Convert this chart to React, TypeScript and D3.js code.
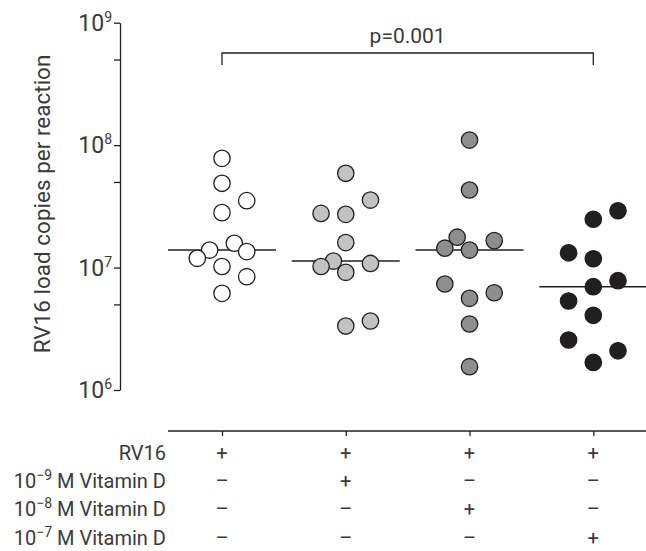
import React, { useEffect, useRef } from 'react';
import * as d3 from 'd3';

// groups (one per column of the table below the axis)
const groups = ['RV16', 'RV16 + 1e-9 M VitD', 'RV16 + 1e-8 M VitD', 'RV16 + 1e-7 M VitD'];

// RV16 load, copies per reaction
const rv16Only = [7.8e7, 4.88e7, 3.52e7, 2.81e7, 1.58e7, 1.39e7, 1.35e7, 1.19e7, 1.02e7, 8.42e6, 6.16e6];
const vitD9 = [5.89e7, 3.56e7, 2.77e7, 2.72e7, 1.6e7, 1.13e7, 1.02e7, 1.08e7, 9.15e6, 3.33e6, 3.66e6];
const vitD8 = [1.1e8, 4.3e7, 1.77e7, 1.66e7, 1.44e7, 1.39e7, 7.34e6, 6.23e6, 5.61e6, 3.46e6, 1.55e6];
const vitD7 = [2.91e7, 2.48e7, 1.32e7, 1.18e7, 7.81e6, 6.98e6, 5.33e6, 4.07e6, 2.56e6, 2.09e6, 1.68e6];

// scatter column of each point (-2 .. 2), same order as the values
const rv16OnlySlots = [0, 0, 2, 0, 1, -1, 2, -2, 0, 2, 0];
const vitD9Slots = [0, 2, -2, 0, 0, -1, -2, 2, 0, 0, 2];
const vitD8Slots = [0, 0, -1, 2, -2, 0, -2, 2, 0, 0, 0];
const vitD7Slots = [2, 0, -2, 0, 2, 0, -2, 0, -2, 2, 0];

const groupValues = [rv16Only, vitD9, vitD8, vitD7];
const groupSlots = [rv16OnlySlots, vitD9Slots, vitD8Slots, vitD7Slots];
const groupFills = ['#ffffff', '#c2c2c2', '#8e8e8e', '#231f20'];

const yTicks = [1e6, 1e7, 1e8, 1e9];
const yMinorTicks = [5e6, 5e7, 5e8];

const pValue = 'p=0.001';
const vitaminDExponents = ['−9', '−8', '−7'];
const rv16Signs = ['+', '+', '+', '+'];
const vitaminDSigns = [
  ['–', '+', '–', '–'],
  ['–', '–', '+', '–'],
  ['–', '–', '–', '+'],
];

const App = () => {
  const svgRef = useRef<SVGSVGElement>(null);

  useEffect(() => {
    const width = 646;
    const height = 551;
    const ink = '#231f20';
    const textColor = '#3a3a3a';
    const font = 'Roboto, "Noto Sans", sans-serif';

    const svg = d3.select(svgRef.current)
      .attr('width', width)
      .attr('height', height);
    svg.selectAll('*').remove();

    const y = d3.scaleLog().domain([1e6, 1e9]).range([390, 22.7]);
    const x = d3.scalePoint<string>().domain(groups).range([222, 593.3]);
    const jitter = d3.scaleLinear().domain([-2, 2]).range([-24.7, 24.7]);
    const axisX = 120;
    const axisY = 431;

    // y axis
    svg.append('g')
      .attr('transform', `translate(${axisX},0)`)
      .call(d3.axisLeft(y).tickValues([...yTicks, ...yMinorTicks]).tickSize(6).tickFormat(() => '').tickSizeOuter(0))
      .call(g => g.selectAll('path, line').attr('stroke', ink).attr('stroke-width', 1.3));

    const yLabels = svg.append('g')
      .selectAll('text')
      .data(yTicks)
      .join('text')
      .attr('x', 112)
      .attr('y', d => y(d))
      .attr('dy', '0.36em')
      .attr('text-anchor', 'end')
      .style('font-family', font)
      .style('font-size', '23px')
      .style('fill', textColor);
    yLabels.append('tspan').text('10');
    yLabels.append('tspan')
      .attr('dy', -9)
      .style('font-size', '14px')
      .text(d => String(Math.round(Math.log10(d))));

    svg.append('text')
      .attr('transform', `translate(50,204) rotate(-90)`)
      .attr('text-anchor', 'middle')
      .style('font-family', font)
      .style('font-size', '22.5px')
      .style('fill', textColor)
      .text('RV16 load copies per reaction');

    // x axis
    svg.append('line')
      .attr('x1', (x(groups[0]) as number) - 54)
      .attr('x2', width)
      .attr('y1', axisY)
      .attr('y2', axisY)
      .attr('stroke', ink)
      .attr('stroke-width', 1.3);
    svg.append('g')
      .attr('transform', `translate(0,${axisY})`)
      .call(d3.axisBottom(x).tickSize(5).tickFormat(() => ''))
      .call(g => g.select('.domain').remove())
      .call(g => g.selectAll('line').attr('stroke', ink).attr('stroke-width', 1.3));

    // points and medians
    groups.forEach((grp, gi) => {
      const cx = x(grp) as number;
      const values = groupValues[gi];
      const slots = groupSlots[gi];
      const med = d3.median(values) as number;

      svg.append('line')
        .attr('x1', cx - 54)
        .attr('x2', cx + 54)
        .attr('y1', y(med))
        .attr('y2', y(med))
        .attr('stroke', ink)
        .attr('stroke-width', 1.5);

      svg.append('g')
        .selectAll('circle')
        .data(values)
        .join('circle')
        .attr('cx', (d, i) => cx + jitter(slots[i]))
        .attr('cy', d => y(d))
        .attr('r', 8.2)
        .attr('fill', groupFills[gi])
        .attr('stroke', ink)
        .attr('stroke-width', 1.3);
    });

    // significance bracket
    const bx1 = x(groups[0]) as number;
    const bx2 = x(groups[3]) as number;
    svg.append('path')
      .attr('d', `M${bx1},65V53H${bx2}V65`)
      .attr('fill', 'none')
      .attr('stroke', ink)
      .attr('stroke-width', 1.3);
    svg.append('text')
      .attr('x', (bx1 + bx2) / 2)
      .attr('y', 43)
      .attr('text-anchor', 'middle')
      .style('font-family', font)
      .style('font-size', '21px')
      .style('fill', textColor)
      .text(pValue);

    // treatment table
    const rowY = [453, 481, 509, 538];
    const labelX = 166;
    const table = svg.append('g')
      .style('font-family', font)
      .style('font-size', '20px')
      .style('fill', textColor);

    table.append('text')
      .attr('x', labelX)
      .attr('y', rowY[0])
      .attr('dy', '0.36em')
      .attr('text-anchor', 'end')
      .text('RV16');

    vitaminDExponents.forEach((exp, i) => {
      const t = table.append('text')
        .attr('x', labelX)
        .attr('y', rowY[i + 1])
        .attr('dy', '0.36em')
        .attr('text-anchor', 'end');
      t.append('tspan').text('10');
      t.append('tspan').attr('dy', -8).style('font-size', '14px').text(exp);
      t.append('tspan').attr('dy', 8).text(' M Vitamin D');
    });

    [rv16Signs, ...vitaminDSigns].forEach((signs, ri) => {
      table.append('g')
        .selectAll('text')
        .data(signs)
        .join('text')
        .attr('x', (d, i) => x(groups[i]) as number)
        .attr('y', rowY[ri])
        .attr('dy', '0.36em')
        .attr('text-anchor', 'middle')
        .text(d => d);
    });
  }, []);

  return (
    <svg ref={svgRef} style={{ position: 'absolute', left: 0, top: 0 }}></svg>
  );
};

export default App;
